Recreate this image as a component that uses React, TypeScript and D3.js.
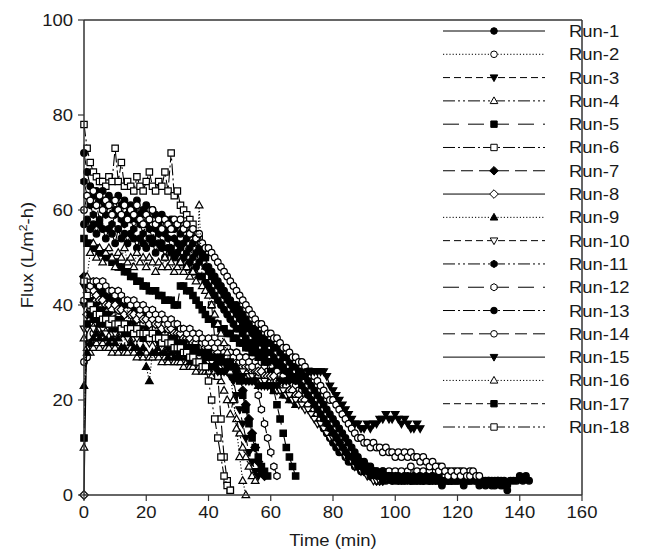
import React from "react";
import * as d3 from "d3";

// time step between samples (min)
const STEP = 1;

const RUN_NAMES = ["Run-1","Run-2","Run-3","Run-4","Run-5","Run-6","Run-7","Run-8","Run-9","Run-10","Run-11","Run-12","Run-13","Run-14","Run-15","Run-16","Run-17","Run-18"];

const run1 = [57,58,56,57,55,57,56,54,56,55, 53,56,54,55,53,55,54,52,54,53, 52,54,53,51,53,52,50,52,51,50, 51,49,50,48,49,47,48,46,46,45, 44,43,42,41,40,39,38,37,36,35, 35,34,33,32,32,31,30,30,29,28, 28,27,27,26,25,25,24,23,23,22, 21,20,19,18,17,16,15,14,13,12, 11,10,9,9,8,7,7,6,6,5, 5,5,4,4,4,4,4,3,4,3, 4,3,4,3,4,3,3,4,3,3, 4,3,3,4,3,3,4,3,3,3, 3,4,3,3,3,4,3,3,3,2, 3,3,2,3,3,2,2,3,3,3, 4,3,4,3];
const run2 = [28,29,32,34,35,36,37,38,36,38, 37,39,36,38,37,39,36,38,37,36, 38,36,37,35,37,36,34,36,35,34, 35,33,34,33,32,34,32,33,31,32, 31,32,30,31,30,31,29,30,29,30, 29,28,29,28,27,28,27,28,27,26, 27,26,26,25,25,24,24,23,23,22, 22,21,21,20,19,18,17,16,15,14, 13,12,12,11,10,9,8,8,7,7, 6,6,5,5,5,4,5,4,5,4, 5,4,5,4,5,6,4,5,4,5, 4,5,4,5,6,5,4,5,4,5, 4,5,4,4,5,4];
const run3 = [40,41,40,39,39,38,38,37,38,37, 37,36,37,36,36,35,36,35,35,34, 35,34,34,33,34,33,33,32,33,32, 32,31,32,31,31,30,31,30,30,29, 29,30,29,28,29,28,27,26,24,21, 18,15,12,9,7,5,4];
const run4 = [33,31,30,31,32,31,32,31,31,30, 31,30,31,30,30,31,30,29,30,29, 30,29,29,30,29,28,29,28,29,28, 28,28,27,28,27,27,26,27,26,26, 26,25,26,25,24,22,20,17,20,16, 13,10,8,6,4,3];
const run5 = [54,53,53,52,52,51,51,50,50,49, 49,48,48,47,47,46,46,45,45,44, 44,43,43,43,42,42,41,41,41,40, 40,44,44,43,43,42,41,40,39,38, 37,37,36,36,35,35,34,34,33,33, 32,32,31,31,30,30,29,29,28,28, 26,22,19,16,13,10,8,6,4];
const run6 = [78,73,70,68,67,66,66,65,67,66, 73,66,70,65,66,65,64,67,65,64, 66,68,65,64,66,65,68,64,72,63, 64,61,60,59,58,57,55,54,52,50, 46,40,33,25,16,8,3,1];
const run7 = [46,44,43,44,43,42,43,42,41,42, 41,40,41,40,39,40,39,38,39,38, 37,38,37,36,37,36,35,36,35,34, 35,34,33,34,33,32,33,32,31,32, 31,30,31,30,29,30,29,28,28,27, 25,22,19,16,13,10,7,5,4];
const run8 = [0,38,42,43,42,41,41,40,40,39, 40,39,39,38,39,38,38,37,38,37, 37,36,37,36,36,35,36,35,35,34, 34,34,33,33,33,32,32,31,32,31, 31,30,30,30,29,29,29,28,28,28, 28,27,27,27,26,26,26,26,25,25, 25,25,24,24,23,23,22,22,21,21, 20,20,19,18,18,17,16,15,14,13, 13,12,11,10,9,8,8,7,6,6, 5,5,4,4,3,3,3];
const run9 = [23,30,32,33,34,33,34,33,32,33, 32,33,31,31,40,32,31,31,30,31, 27,24,30,30,31,30,30,29,30,29, 29,29,30,29,28,29,28,28,27,28, 27,27,28,27,26,27,26,26,25,26, 25,25,24,25,24,24,23,24,23,23, 23,22,22,22,21,21,20,20,19];
const run10 = [35,35,36,35,36,35,35,34,35,34, 34,35,34,34,33,34,33,33,34,33, 33,32,33,32,32,31,32,31,31,31, 30,31,30,30,29,30,29,29,28,29, 28,28,27,28,27,27,26,27,26,26, 26,26,25,25,25,24,24,24,24,23, 23,23,22,22,22,21,21,20,20,19, 19,18,18,17,16,15,15,14,13,12, 12,11,10,9,8,8,7,6,6,5, 5,4,4,3,3,3,3];
const run11 = [66,63,61,59,61,58,60,59,61,57, 59,60,58,57,59,58,56,58,57,55, 57,56,54,56,55,53,55,54,52,54, 53,52,53,51,52,50,51,49,50,48, 47,46,45,44,43,42,41,40,39,38, 37,36,35,35,34,33,32,32,31,30, 30,29,28,28,27,26,26,25,24,24, 23,22,21,20,19,18,17,16,15,14, 13,12,11,10,9,8,8,7,6,6, 5,5,4,5,4,4,3,4,4,3, 4,3,3,4,3,3,4,3,3,3, 4,3,3,3,4,3,3,3,3];
const run12 = [41,43,44,45,45,44,45,44,43,43, 42,43,42,41,41,40,41,40,39,40, 39,38,39,38,37,38,37,36,37,36, 36,35,35,34,35,34,33,34,33,32, 33,32,31,32,31,30,31,30,29,30, 29,28,29,28,27,24,21,18,15,12, 9,6,4];
const run13 = [72,68,65,63,64,62,64,61,63,62, 60,63,61,62,59,61,60,62,59,60, 61,58,60,59,57,59,58,56,58,56, 57,55,56,54,55,53,54,52,51,50, 48,47,46,45,44,43,42,41,40,40, 39,38,37,36,35,35,34,33,33,32, 32,31,31,30,29,29,28,27,27,26, 26,25,24,23,22,21,20,19,18,17, 16,15,14,13,12,11,10,9,8,7, 7,6,6,5,5,4,5,4,4,4, 3,4,3,3,4,3,3,3,4,3, 3,3,4,3,3,2,3,3,3,3, 3,3,2,3,3,3,3,2,3,3, 3,2,3,3,2,3,1];
const run14 = [60,63,62,64,61,63,60,62,61,59, 62,60,59,61,58,60,59,61,58,57, 59,58,60,57,58,56,58,57,56,58, 57,58,56,57,55,56,54,55,53,52, 52,51,50,49,48,47,46,45,44,43, 42,41,40,39,38,37,36,36,35,34, 34,33,33,32,31,31,30,29,29,28, 28,27,26,26,25,24,23,22,21,20, 20,19,18,17,16,15,14,13,12,12, 11,11,10,11,10,10,9,10,9,9, 8,9,8,9,8,9,8,8,7,8, 7,6,7,6,5,6,5,4,5,4, 5,4,5,4,4,5,4,4];
const run15 = [44,42,41,40,40,39,39,38,38,37, 37,37,36,36,36,35,35,35,34,34, 34,33,33,33,32,32,32,31,31,31, 30,30,30,29,29,29,28,28,28,27, 27,27,27,26,26,26,26,25,25,25, 25,25,24,24,24,24,23,23,23,23, 23,23,23,24,24,24,24,25,25,25, 25,25,26,26,26,26,26,26,25,23, 22,21,20,19,18,17,16,15,15,14, 14,15,14,15,15,16,16,17,16,16, 17,16,15,16,15,14,14,15,14];
const run16 = [10,46,51,53,50,52,49,51,52,50, 48,51,50,52,49,50,48,51,49,50, 48,50,49,47,49,48,50,48,49,47, 48,49,47,48,46,47,45,61,44,43, 42,40,38,36,34,32,30,26,20,14, 8,3,0];
const run17 = [12,36,38,37,37,36,37,36,36,35, 36,35,35,34,35,34,34,35,34,33, 34,33,33,34,33,32,33,32,32,33, 32,31,32,31,31,30,31,30,30,29, 30,29,29,28,29,28,27,28,27,26, 24,21,18,15,12,10,8,6,5,4];
const run18 = [45,42,40,39,38,38,37,37,36,37, 36,36,35,36,35,35,34,35,34,34, 34,33,34,33,33,32,33,32,32,31, 31,31,30,30,29,29,28,28,27,27, 24,20,16,12,8,4,2,1];

const RUN_VALUES = [run1,run2,run3,run4,run5,run6,run7,run8,run9,run10,run11,run12,run13,run14,run15,run16,run17,run18];

const X_TICKS = [0,20,40,60,80,100,120,140,160];
const Y_TICKS = [0,20,40,60,80,100];

// styles
const DASHES = ["none","1.2,2","7,4","12,3,2,3,2,3","16,9","12,3,2,3","12,6"];
const SHAPES = ["circle","circle","tridown","triup","square","square","diamond","diamond","triup","tridown","hexagon","hexagon","circle","circle","tridown","triup","square","square"];

function shapePath(shape: string): string {
  switch (shape) {
    case "circle": {
      const r = 3.3;
      return `M${r},0A${r},${r} 0 1,1 ${-r},0A${r},${r} 0 1,1 ${r},0Z`;
    }
    case "square": return "M-3.2,-3.2L3.2,-3.2L3.2,3.2L-3.2,3.2Z";
    case "triup": return "M0,-4L3.8,2.7L-3.8,2.7Z";
    case "tridown": return "M0,4L3.8,-2.7L-3.8,-2.7Z";
    case "diamond": return "M0,-4.3L4.3,0L0,4.3L-4.3,0Z";
    case "hexagon": {
      const r = 3.6;
      const pts = d3.range(6).map((k) => {
        const a = Math.PI / 6 + (k * Math.PI) / 3;
        return [r * Math.cos(a), r * Math.sin(a)];
      });
      return "M" + pts.map((p) => p[0].toFixed(2) + "," + p[1].toFixed(2)).join("L") + "Z";
    }
  }
  return "";
}

const FONT = "'Liberation Sans', Arial, Helvetica, sans-serif";
const SX = 1.12;

function T(props: { x: number; y: number; anchor?: string; size?: number; rotate?: number; children: React.ReactNode }) {
  const { x, y, anchor = "start", size = 16.5, rotate = 0, children } = props;
  return (
    <text
      transform={`translate(${x},${y})${rotate ? ` rotate(${rotate})` : ""} scale(${SX},1)`}
      textAnchor={anchor as any}
      fontFamily={FONT}
      fontSize={size}
      fill="#1a1a1a"
    >
      {children}
    </text>
  );
}

export default function App() {
  const W = 665, H = 552;
  const x = d3.scaleLinear().domain([0, 160]).range([84, 582]);
  const y = d3.scaleLinear().domain([0, 100]).range([495, 20]);
  const line = d3.line<number>().x((_, i) => x(i * STEP)).y((v) => y(v));
  const frame = "#333";

  const legX0 = 443, legX1 = 545, legM = 494, legT = 569;
  const legY = d3.scaleLinear().domain([0, 17]).range([31, 427]);

  return (
    <svg width={W} height={H} style={{ position: "absolute", left: 0, top: 0, background: "#fff" }}>
      <rect x={0} y={0} width={W} height={H} fill="#fff" />
      {RUN_VALUES.map((vals, r) => {
        const filled = r % 2 === 0;
        const p = shapePath(SHAPES[r]);
        return (
          <g key={r}>
            <path d={line(vals) || ""} fill="none" stroke="#000" strokeWidth={1.1} strokeDasharray={DASHES[r % 7]} />
            {vals.map((v, i) => (
              <path key={i} d={p} transform={`translate(${x(i * STEP)},${y(v)})`} fill={filled ? "#000" : "#fff"} stroke="#000" strokeWidth={1.2} />
            ))}
          </g>
        );
      })}
      {/* frame */}
      <line x1={84} x2={582} y1={20} y2={20} stroke={frame} strokeWidth={1.5} />
      <line x1={582} x2={582} y1={20} y2={495} stroke={frame} strokeWidth={1.5} />
      <line x1={84} x2={582} y1={495} y2={495} stroke={frame} strokeWidth={1.5} />
      <line x1={84} x2={84} y1={20} y2={495} stroke={frame} strokeWidth={1.5} />
      {X_TICKS.map((t) => (
        <g key={"x" + t}>
          <line x1={x(t)} x2={x(t)} y1={495} y2={501} stroke={frame} strokeWidth={1.2} />
          <T x={x(t)} y={518} anchor="middle">{t}</T>
        </g>
      ))}
      {Y_TICKS.map((t) => (
        <g key={"y" + t}>
          <line x1={78} x2={84} y1={y(t)} y2={y(t)} stroke={frame} strokeWidth={1.2} />
          <T x={73} y={y(t) + 6} anchor="end">{t}</T>
        </g>
      ))}
      <T x={333} y={546} anchor="middle">Time (min)</T>
      <T x={33} y={255} anchor="middle" rotate={-90}>
        Flux (L/m<tspan dy={-6} fontSize={11}>2</tspan><tspan dy={6}>-h)</tspan>
      </T>
      {/* legend */}
      {RUN_NAMES.map((name, r) => {
        const ly = legY(r);
        const filled = r % 2 === 0;
        return (
          <g key={"l" + r}>
            <line x1={legX0} x2={legX1} y1={ly} y2={ly} stroke="#000" strokeWidth={1} strokeDasharray={DASHES[r % 7]} />
            <path d={shapePath(SHAPES[r])} transform={`translate(${legM},${ly})`} fill={filled ? "#000" : "#fff"} stroke="#000" strokeWidth={1} />
            <T x={legT} y={ly + 6}>{name}</T>
          </g>
        );
      })}
    </svg>
  );
}
